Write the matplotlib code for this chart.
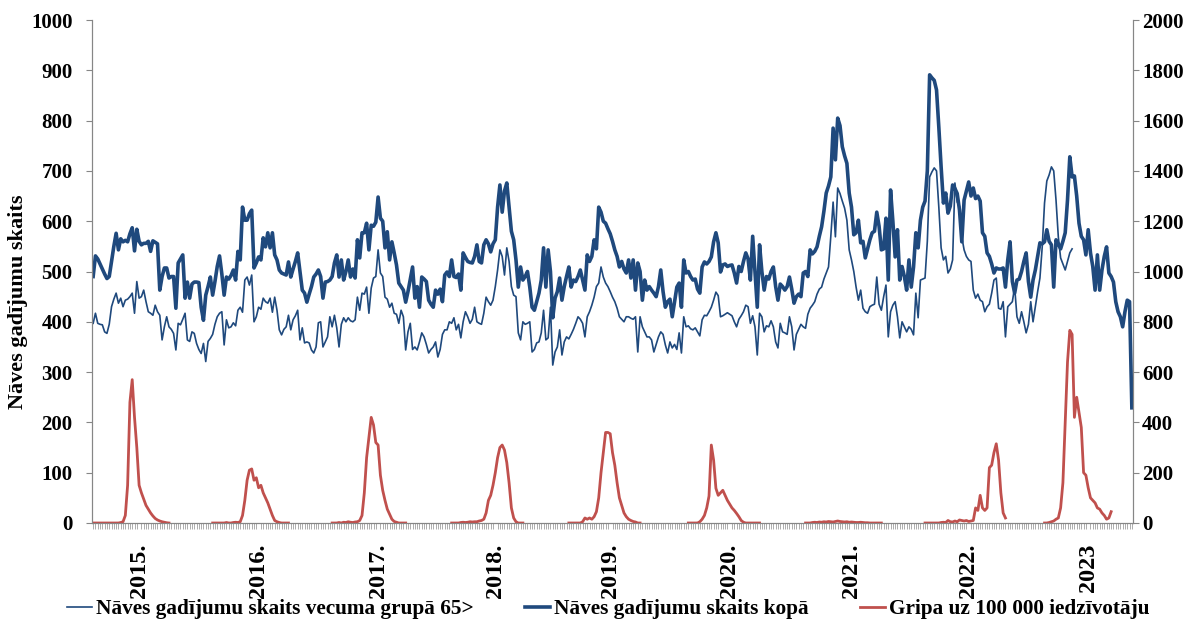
import numpy as np
import matplotlib
matplotlib.use("Agg")
from matplotlib import pyplot as plt
from matplotlib.lines import Line2D

# weekly deaths, all ages (left axis)
total = [
    490, 531, 525, 515, 505, 495, 486, 490, 520, 550,
    576, 543, 565, 559, 562, 559, 575, 587, 541, 584,
    560, 553, 556, 556, 560, 540, 561, 558, 555, 463,
    490, 507, 507, 487, 490, 490, 427, 517, 525, 533,
    447, 479, 447, 475, 479, 479, 478, 429, 403, 453,
    470, 489, 453, 480, 510, 531, 495, 453, 489, 485,
    492, 503, 483, 540, 523, 628, 602, 602, 615, 622,
    507, 517, 529, 523, 567, 549, 577, 547, 577, 533,
    523, 503, 497, 495, 493, 519, 489, 505, 520, 537,
    500, 463, 457, 439, 455, 470, 489, 495, 503, 490,
    447, 479, 480, 483, 490, 517, 533, 489, 523, 483,
    500, 523, 489, 505, 487, 563, 527, 577, 577, 596,
    543, 592, 590, 598, 648, 606, 600, 547, 579, 523,
    559, 537, 513, 477, 470, 463, 439, 460, 485, 509,
    447, 470, 429, 489, 485, 480, 443, 435, 429, 463,
    455, 465, 440, 493, 499, 490, 523, 490, 488, 495,
    463, 537, 528, 520, 518, 517, 530, 553, 520, 517,
    553, 563, 555, 539, 555, 563, 628, 672, 618, 660,
    676, 628, 580, 563, 523, 469, 509, 483, 490, 500,
    469, 429, 423, 440, 457, 483, 547, 469, 543, 500,
    408, 447, 460, 487, 443, 470, 490, 509, 469, 483,
    480, 490, 503, 483, 463, 533, 520, 530, 563, 545,
    628, 618, 600, 596, 585, 575, 560, 543, 530, 509,
    520, 505, 497, 523, 487, 523, 463, 517, 500, 443,
    483, 463, 470, 463, 457, 450, 470, 503, 460, 429,
    440, 445, 410, 440, 469, 477, 429, 523, 497, 500,
    490, 483, 485, 465, 457, 509, 519, 515, 520, 529,
    559, 577, 557, 499, 513, 515, 510, 512, 513, 497,
    477, 510, 500, 520, 537, 525, 483, 570, 500, 429,
    553, 500, 463, 490, 485, 500, 509, 470, 443, 475,
    470, 463, 470, 489, 465, 437, 450, 455, 450, 497,
    500, 490, 543, 535, 540, 549, 570, 589, 620, 656,
    670, 688, 785, 722, 805, 790, 748, 730, 715, 656,
    628, 573, 577, 602, 557, 560, 527, 545, 563, 577,
    580, 618, 590, 543, 545, 606, 483, 662, 600, 529,
    583, 483, 510, 490, 463, 523, 469, 509, 577, 547,
    602, 628, 640, 700, 891, 885, 880, 861, 787, 708,
    636, 656, 616, 630, 672, 665, 655, 622, 559, 642,
    660, 678, 650, 666, 645, 650, 640, 577, 570, 537,
    530, 515, 497, 507, 505, 505, 507, 469, 523, 559,
    480, 457, 483, 485, 500, 520, 537, 480, 449, 483,
    503, 530, 557, 555, 559, 583, 560, 553, 469, 563,
    555, 545, 560, 577, 642, 728, 688, 690, 650, 596,
    570, 563, 533, 583, 537, 510, 463, 533, 463, 503,
    530, 549, 497, 490, 479, 440, 420, 410, 390, 420,
    443, 440, 229,
]

# weekly deaths, age group 65+ (left axis)
over65 = [
    397, 417, 397, 395, 394, 380, 377, 395, 430, 445,
    457, 437, 447, 430, 443, 445, 450, 457, 417, 480,
    447, 450, 463, 440, 420, 417, 413, 433, 420, 413,
    364, 390, 410, 390, 385, 377, 344, 397, 394, 405,
    417, 364, 361, 380, 377, 357, 345, 337, 357, 321,
    361, 367, 375, 395, 410, 417, 420, 354, 404, 388,
    390, 398, 392, 423, 429, 419, 483, 489, 473, 493,
    400, 410, 429, 425, 447, 440, 437, 447, 419, 449,
    423, 384, 374, 385, 390, 413, 384, 404, 412, 423,
    364, 388, 358, 360, 358, 344, 338, 350, 398, 400,
    350, 360, 370, 410, 390, 413, 388, 350, 395, 408,
    400, 408, 402, 400, 404, 449, 423, 457, 455, 469,
    417, 467, 487, 490, 543, 497, 490, 449, 445, 429,
    437, 417, 415, 397, 423, 410, 344, 380, 397, 345,
    350, 344, 360, 378, 370, 355, 338, 345, 350, 360,
    330, 345, 375, 384, 384, 400, 397, 408, 384, 395,
    368, 400, 420, 410, 397, 405, 429, 400, 397, 395,
    417, 449, 440, 433, 443, 470, 503, 543, 530, 493,
    547, 520, 470, 453, 450, 378, 364, 400, 395, 397,
    400, 340, 345, 358, 360, 378, 423, 364, 368, 429,
    314, 340, 350, 384, 334, 360, 370, 366, 375, 385,
    397, 410, 405, 397, 370, 410, 420, 433, 449, 470,
    477, 509, 489, 477, 470, 460, 449, 440, 427, 410,
    405, 400, 410, 410, 407, 405, 410, 340, 410, 390,
    380, 370, 370, 364, 340, 355, 370, 380, 375, 354,
    338, 360, 348, 355, 345, 378, 338, 410, 390, 392,
    386, 384, 388, 380, 372, 404, 413, 412, 420, 429,
    443, 459, 452, 410, 412, 415, 418, 415, 412, 400,
    390, 405, 412, 420, 433, 430, 397, 412, 390, 334,
    417, 410, 380, 392, 390, 402, 390, 360, 348, 397,
    380, 378, 375, 410, 390, 344, 375, 385, 395, 390,
    387, 415, 427, 433, 440, 455, 465, 469, 485, 497,
    509, 570, 638, 569, 666, 655, 640, 626, 602, 543,
    523, 500, 469, 443, 463, 427, 420, 417, 430, 433,
    435, 489, 435, 423, 450, 473, 370, 420, 433, 440,
    410, 368, 400, 390, 380, 390, 385, 374, 457, 408,
    483, 485, 487, 560, 688, 698, 706, 700, 628, 547,
    523, 530, 497, 505, 523, 676, 638, 630, 569, 543,
    530, 523, 520, 463, 447, 455, 443, 440, 420, 430,
    435, 457, 483, 487, 427, 425, 440, 370, 430, 435,
    440, 469, 410, 397, 420, 400, 378, 395, 440, 400,
    430, 460, 487, 549, 636, 680, 692, 708, 700, 642,
    569, 527, 515, 503, 520, 537, 545,
]

# influenza per 100 000 (right axis), one list per season
flu_season_start = [0, 52, 104, 156, 207, 259, 310, 362, 414]
flu_2015 = [0, 0, 0, 0, 0, 0, 0, 0, 0, 0, 0, 0, 2, 5, 30, 150, 480, 570, 420, 300,
            150, 120, 95, 70, 55, 40, 28, 18, 12, 8, 5, 3, 1, 0]
flu_2016 = [0, 0, 0, 0, 0, 0, 2, 0, 0, 2, 3, 2, 5, 30, 90, 170, 210, 215, 170, 180,
            140, 150, 120, 100, 80, 55, 30, 10, 5, 2, 0, 0, 0, 0]
flu_2017 = [0, 0, 0, 2, 0, 3, 2, 5, 3, 2, 4, 5, 10, 30, 120, 260, 340, 420, 390, 320,
            310, 190, 130, 90, 55, 35, 15, 6, 3, 0, 0, 0, 0]
flu_2018 = [0, 0, 0, 0, 2, 3, 2, 3, 5, 4, 5, 5, 8, 10, 15, 40, 90, 110, 150, 200,
            260, 300, 310, 290, 240, 160, 60, 20, 5, 0, 0, 0]
flu_2019 = [0, 0, 0, 0, 0, 0, 5, 20, 15, 20, 15, 25, 45, 100, 200, 280, 360, 360, 355, 280,
            230, 160, 100, 70, 40, 25, 15, 10, 6, 4, 0, 0]
flu_2020 = [0, 0, 0, 0, 0, 5, 15, 30, 60, 107, 310, 250, 138, 110, 120, 130, 110, 90, 75, 60,
            50, 38, 25, 10, 3, 0, 0, 0, 0, 0, 0, 0]
flu_2021 = [0, 0, 0, 2, 3, 2, 4, 3, 5, 4, 6, 5, 4, 6, 8, 6, 5, 4, 5, 3,
            4, 3, 2, 2, 3, 2, 1, 1, 0, 0, 0, 0, 0, 0]
flu_2022 = [0, 0, 0, 0, 0, 0, 0, 2, 3, 2, 10, 5, 4, 8, 5, 12, 10, 8, 10, 6,
            8, 10, 60, 50, 110, 60, 50, 60, 220, 230, 280, 315, 250, 120, 40, 20]
flu_2023 = [0, 0, 2, 5, 8, 15, 20, 60, 160, 400, 640, 766, 750, 420, 500, 440, 380, 200, 190, 140,
            100, 90, 80, 60, 55, 40, 30, 15, 20, 45]
flu_seasons = [flu_2015, flu_2016, flu_2017, flu_2018, flu_2019,
               flu_2020, flu_2021, flu_2022, flu_2023]

year_labels = ["2015.", "2016.", "2017.", "2018.", "2019.", "2020.", "2021.", "2022.", "2023"]
year_label_week = [20, 72, 124, 175, 225, 277, 330, 381, 433]

legend_labels = ["Nāves gadījumu skaits vecuma grupā 65>",
                 "Nāves gadījumu skaits kopā",
                 "Gripa uz 100 000 iedzīvotāju"]

plt.rcParams['font.family'] = ['Liberation Serif', 'DejaVu Serif']
plt.rcParams['font.weight'] = 'bold'

n = len(total)
x = np.arange(n)
flu = np.full(n, np.nan)
for start, vals in zip(flu_season_start, flu_seasons):
    flu[start:start + len(vals)] = vals

blue = '#1F497D'
red = '#C0504D'
grey = '#868686'

fig = plt.figure(figsize=(12.03, 6.21), dpi=100)
ax = fig.add_axes([92 / 1203, 1 - 523 / 621, (1133 - 92) / 1203, (523 - 20) / 621])
ax.plot(np.arange(len(over65)), over65, color=blue, lw=1.2)
ax.plot(x, total, color=blue, lw=2.6)

ax2 = ax.twinx()
ax2.plot(x, flu, color=red, lw=2.0)

ax.set_xlim(-0.5, n - 0.5)
ax.set_ylim(0, 1000)
ax2.set_ylim(0, 2000)

ax.set_yticks(range(0, 1001, 100))
ax2.set_yticks(range(0, 2001, 200))
ax.tick_params(axis='y', direction='out', length=4.5, color=grey, labelsize=15, pad=9.5)
ax2.tick_params(axis='y', direction='out', length=4.5, color=grey, labelsize=15, pad=2)
for a in (ax, ax2):
    a.spines['top'].set_visible(False)
    for side in ('left', 'right', 'bottom'):
        a.spines[side].set_color(grey)
    for lab in a.get_yticklabels():
        lab.set_fontweight('bold')

ax.set_xticks(year_label_week)
ax.set_xticklabels(year_labels, rotation=90, fontsize=17.5, fontweight='bold')
ax.tick_params(axis='x', which='major', length=0, pad=15)
ax.set_xticks(x, minor=True)
ax.tick_params(axis='x', which='minor', length=4, width=0.6, color='#A0A0A0')

ax.set_ylabel('Nāves gadījumu skaits', fontsize=16, fontweight='bold')
ax.yaxis.set_label_coords(-0.061, 0.44)

handles = [Line2D([], [], color=blue, lw=1.2),
           Line2D([], [], color=blue, lw=2.6),
           Line2D([], [], color=red, lw=2.0)]
fig.legend(handles, legend_labels, loc='center left', ncol=3, frameon=False,
           bbox_to_anchor=(67 / 1203, 1 - 609 / 621), borderpad=0, borderaxespad=0,
           columnspacing=2.4, handlelength=1.18, handletextpad=0.2,
           prop={'size': 15.3, 'weight': 'bold'})

fig.savefig('out.png', dpi=100)
